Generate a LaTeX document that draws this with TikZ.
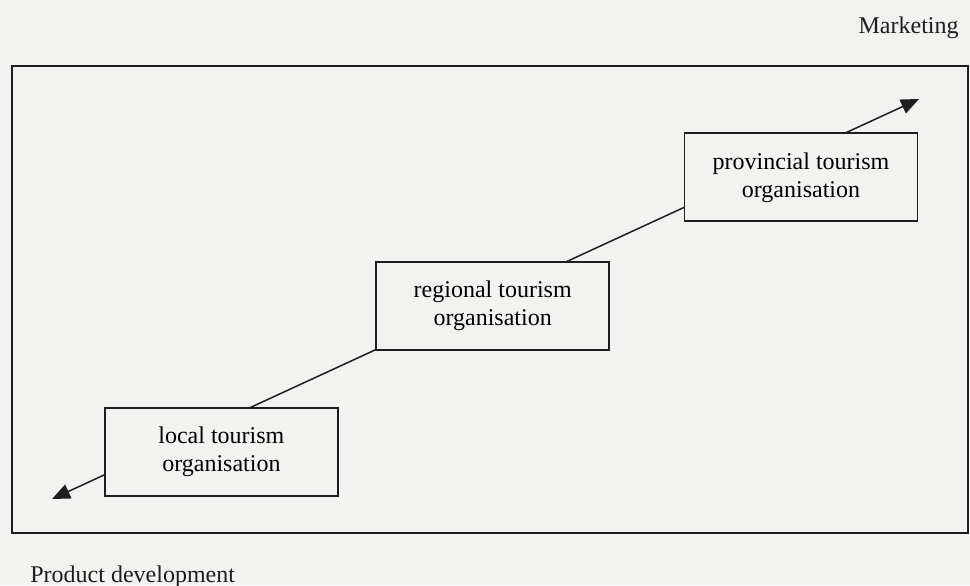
\documentclass[tikz,border=0pt]{standalone}
\usepackage{fontspec}
\setmainfont{Liberation Serif}
\usetikzlibrary{arrows.meta, positioning}
\definecolor{paper}{RGB}{242,242,240}
\definecolor{ink}{RGB}{30,30,30}

\begin{document}
\begin{tikzpicture}[
  x=0.5pt, y=-0.5pt,
  node distance = 28.25pt and 18.25pt,
  box/.style = {
    rectangle, draw=ink, line width=0.9pt, fill=paper,
    minimum width=116.5pt, minimum height=44pt,
    font=\fontsize{12}{14}\selectfont, align=center, inner sep=0pt
  },
  lbl/.style = {inner sep=0pt, font=\fontsize{12}{14}\selectfont, text=ink},
  arr/.style = {{Triangle[length=9pt,width=7.5pt]}-{Triangle[length=9pt,width=7.5pt]},
    line width=0.75pt, draw=ink}
]
\useasboundingbox (0,0) rectangle (970,585);
\fill[paper] (0,0) rectangle (970,585);
\draw[ink, line width=1pt] (12,66) rectangle (968,533);
\coordinate (lo) at (52,499);
\coordinate (hi) at (919,99);
\draw[arr] (lo) -- (hi);
\node[box, anchor=north west] (loc) at (104,407) {local tourism\\organisation};
\node[box, above right=28.25pt and 18.25pt of loc] (reg) {regional tourism\\organisation};
\node[box, above right=19.25pt and 36.75pt of reg] (prov) {provincial tourism\\organisation};
\node[lbl, anchor=base east] (mkt) at (959,33) {Marketing};
\node[lbl, anchor=base west] (pdev) at (30,582) {Product development};
\end{tikzpicture}
\end{document}
